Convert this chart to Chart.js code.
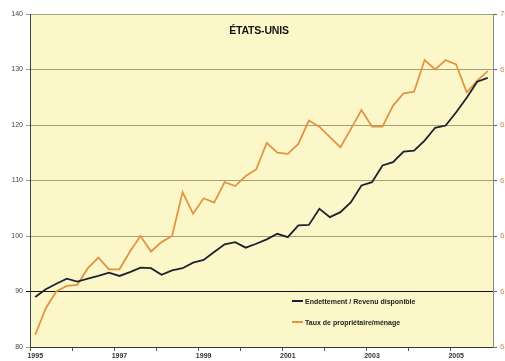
<!DOCTYPE html>
<html><head><meta charset="utf-8">
<script src="https://cdn.jsdelivr.net/npm/chart.js@4/dist/chart.umd.min.js"></script>
<style>
html,body{margin:0;padding:0;background:#fff;overflow:hidden;width:505px;height:361px;}
#wrap{position:absolute;left:0;top:0;width:520px;height:361px;}
#title{position:absolute;left:199px;width:120px;top:24px;text-align:center;font:bold 10.5px "Liberation Sans",Arial,sans-serif;color:#151515;letter-spacing:-0.2px;}
#legend{position:absolute;left:292px;top:295px;font:bold 7px "Liberation Sans",Arial,sans-serif;color:#222;}
.item{display:flex;align-items:center;height:12px;margin-bottom:9px;white-space:nowrap;}
.sw{width:11px;height:2px;margin-right:2px;}
</style></head>
<body>
<div id="wrap"><canvas id="c" width="520" height="361"></canvas></div>
<div id="title">ÉTATS-UNIS</div>
<div id="legend"></div>
<script>
const years = [1995,1996,1997,1998,1999,2000,2001,2002,2003,2004,2005];
const quarters = years.flatMap(y => [y + ' T1', y + ' T2', y + ' T3', y + ' T4']);
const tickYears = ['1995','1997','1999','2001','2003','2005'];

const seriesNames = ['Endettement / Revenu disponible', 'Taux de propriétaire/ménage'];

// Endettement / Revenu disponible (left axis)
const debtRatio = [
  89.0, 90.4, 91.4, 92.3, 91.8, 92.3, 92.8, 93.4, 92.8, 93.5, 94.3,
  94.2, 93.0, 93.8, 94.2, 95.2, 95.7, 97.1, 98.5, 98.9, 97.9, 98.6,
  99.4, 100.4, 99.8, 101.9, 102.0, 104.9, 103.4, 104.3, 106.1, 109.1, 109.7,
  112.7, 113.3, 115.2, 115.4, 117.2, 119.5, 119.9, 122.3, 124.9, 127.8, 128.5
];
// Taux de propriétaire/ménage (right axis, %)
const ownershipRate = [
  64.22, 64.70, 65.00, 65.10, 65.12, 65.42, 65.61, 65.40, 65.40, 65.72, 66.00,
  65.72, 65.89, 66.00, 66.79, 66.40, 66.68, 66.60, 66.97, 66.90, 67.08, 67.20,
  67.68, 67.50, 67.48, 67.66, 68.08, 67.97, 67.78, 67.60, 67.93, 68.27, 67.97,
  67.97, 68.35, 68.57, 68.60, 69.17, 69.00, 69.17, 69.09, 68.59, 68.80, 68.97
];

const seriesColors = ['#1e2230', '#e39443'];

Chart.defaults.font.family = '"Liberation Sans", Arial, sans-serif';

const plotBg = {
  id: 'plotBg',
  beforeDraw(chart) {
    const {ctx, chartArea: a} = chart;
    ctx.save();
    ctx.fillStyle = '#fcf7c8';
    ctx.fillRect(a.left, a.top, a.right - a.left, a.bottom - a.top);
    ctx.restore();
  }
};

const chart = new Chart(document.getElementById('c'), {
  type: 'line',
  data: {
    labels: quarters,
    datasets: [
      {label: seriesNames[0], data: debtRatio, yAxisID: 'y', borderColor: seriesColors[0], borderWidth: 1.8, pointRadius: 0, tension: 0, fill: false},
      {label: seriesNames[1], data: ownershipRate, yAxisID: 'y2', borderColor: seriesColors[1], borderWidth: 1.8, pointRadius: 0, tension: 0, fill: false}
    ]
  },
  options: {
    responsive: false,
    devicePixelRatio: 1,
    animation: false,
    layout: {padding: {top: 14, left: 0, right: 0, bottom: 0}},
    plugins: {legend: {display: false}, tooltip: {enabled: false}},
    scales: {
      x: {
        type: 'category',
        offset: true,
        grid: {offset: true, drawOnChartArea: false, drawTicks: true, tickLength: 4,
               color: c => (c.index % 4 === 0 ? '#555' : 'rgba(0,0,0,0)')},
        border: {color: '#333', width: 1},
        ticks: {autoSkip: false, maxRotation: 0, minRotation: 0, padding: 1,
                font: {size: 7, weight: 'bold'}, color: '#333',
                callback: (v, i) => (i % 8 === 0 ? tickYears[i / 8] : '')},
        afterFit: s => { s.height = 14; }
      },
      y: {
        position: 'left', min: 80, max: 140,
        ticks: {stepSize: 10, font: {size: 7}, color: '#444', padding: 3},
        grid: {color: c => (c.tick && c.tick.value === 90 ? '#111' : '#a39d7a'), lineWidth: 1, tickLength: 4},
        border: {color: '#444'},
        afterFit: s => { s.width = 30; }
      },
      y2: {
        position: 'right', min: 64, max: 70,
        ticks: {stepSize: 1, font: {size: 8}, color: '#e0883a', padding: 3},
        grid: {drawOnChartArea: false, tickLength: 4, color: '#666'},
        border: {color: '#888'},
        afterFit: s => { s.width = 27; }
      }
    }
  },
  plugins: [plotBg]
});

const lg = document.getElementById('legend');
chart.data.datasets.forEach(ds => {
  const it = document.createElement('div');
  it.className = 'item';
  const sw = document.createElement('span');
  sw.className = 'sw';
  sw.style.background = ds.borderColor;
  const tx = document.createElement('span');
  tx.textContent = ds.label;
  it.appendChild(sw); it.appendChild(tx);
  lg.appendChild(it);
});
</script>
</body></html>
